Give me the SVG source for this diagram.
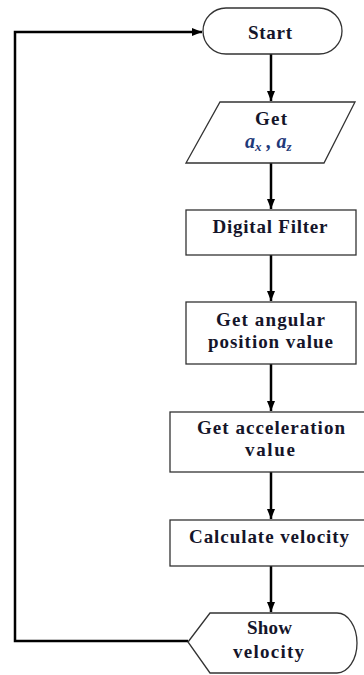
<svg xmlns="http://www.w3.org/2000/svg" width="364" height="675" viewBox="0 0 364 675">
<defs>
<marker id="ah" markerUnits="userSpaceOnUse" markerWidth="10" markerHeight="10" viewBox="0 0 10 10" refX="10" refY="5" orient="auto">
<path d="M0,1 L10,5 L0,9 Z" fill="#000"/>
</marker>
<style>
.shape{fill:#fff;stroke:#333;stroke-width:1.3}
.conn{fill:none;stroke:#000;stroke-width:2.5;marker-end:url(#ah)}
.t{font-family:"Liberation Serif","Times New Roman",serif;font-weight:bold;font-size:19px;fill:#15152a;text-anchor:middle}
.m{font-family:"Liberation Serif","Times New Roman",serif;font-weight:bold;font-style:italic;font-size:20px;fill:#1f3a7a}
</style>
</defs>
<rect width="364" height="675" fill="#fff"/>
<g id="connectors">
<line class="conn" x1="271" y1="54" x2="271" y2="101"/>
<line class="conn" x1="271" y1="163" x2="271" y2="209"/>
<line class="conn" x1="271" y1="255" x2="271" y2="301"/>
<line class="conn" x1="271" y1="364" x2="271" y2="411"/>
<line class="conn" x1="271" y1="472" x2="271" y2="519"/>
<line class="conn" x1="271" y1="566" x2="271" y2="612"/>
<path class="conn" d="M188,641 L15,641 L15,32 L202,32"/>
</g>
<g id="start">
<rect class="shape" x="203" y="8" width="139" height="46" rx="23"/>
<text class="t" x="270" y="39" textLength="44" lengthAdjust="spacing">Start</text>
</g>
<g id="get-input">
<polygon class="shape" points="220,102 355,102 324,163 186,163"/>
<text class="t" x="271" y="125" textLength="32" lengthAdjust="spacing">Get</text>
<text class="m" x="245" y="148">a<tspan font-size="13" dy="3">x</tspan><tspan dy="-3"> , a</tspan><tspan font-size="13" dy="3">z</tspan></text>
</g>
<g id="digital-filter">
<rect class="shape" x="186" y="210" width="170" height="45"/>
<text class="t" x="270" y="233" textLength="115" lengthAdjust="spacing">Digital Filter</text>
</g>
<g id="angular">
<rect class="shape" x="186" y="302" width="170" height="62"/>
<text class="t" x="270.5" y="326" textLength="109" lengthAdjust="spacing">Get angular</text>
<text class="t" x="270.5" y="348" textLength="125" lengthAdjust="spacing">position value</text>
</g>
<g id="acceleration">
<rect class="shape" x="170" y="412" width="198" height="60"/>
<text class="t" x="271" y="434" textLength="148" lengthAdjust="spacing">Get acceleration</text>
<text class="t" x="270" y="456" textLength="50" lengthAdjust="spacing">value</text>
</g>
<g id="calculate">
<rect class="shape" x="170" y="520" width="198" height="46"/>
<text class="t" x="269" y="543" textLength="160" lengthAdjust="spacing">Calculate velocity</text>
</g>
<g id="show">
<path class="shape" d="M188,642 L210,613 L337,613 A20,30 0 0 1 337,673 L210,673 Z"/>
<text class="t" x="269.5" y="634" textLength="45" lengthAdjust="spacing">Show</text>
<text class="t" x="268.5" y="658" textLength="71" lengthAdjust="spacing">velocity</text>
</g>
</svg>
